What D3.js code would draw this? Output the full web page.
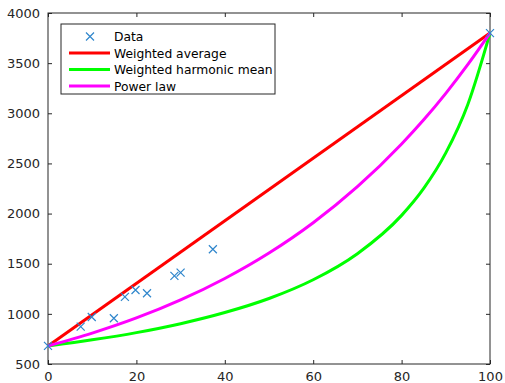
<!DOCTYPE html>
<html>
<head>
<meta charset="utf-8">
<script src="https://cdn.jsdelivr.net/npm/d3@7"></script>
<style>
  body { margin: 0; background: #fff; }
  svg text { font-family: "DejaVu Sans", sans-serif; }
</style>
</head>
<body>
<div id="chart"></div>
<script>
// data
const dataX = [0, 7.4, 9.9, 14.9, 17.4, 19.8, 22.4, 28.6, 30.0, 37.3, 100];
const dataY = [680, 872, 969, 956, 1169, 1238, 1205, 1378, 1411, 1644, 3800];

const avgX = [0, 100];
const avgY = [680, 3800];

const curveX = [0, 10, 20, 30, 40, 50, 60, 70, 80, 85, 90, 95, 100];
const harmonicY = [680, 741, 813, 902, 1013, 1153, 1340, 1600, 1982, 2251, 2605, 3091, 3800];
const powerY = [680, 808, 959, 1139, 1353, 1607, 1909, 2268, 2694, 2935, 3199, 3487, 3800];

const xTicks = [0, 20, 40, 60, 80, 100];
const yTicks = [500, 1000, 1500, 2000, 2500, 3000, 3500, 4000];

const legendItems = [
    { label: 'Data', type: 'marker', color: '#2f86cc' },
    { label: 'Weighted average', type: 'line', color: '#ff0000' },
    { label: 'Weighted harmonic mean', type: 'line', color: '#00ff00' },
    { label: 'Power law', type: 'line', color: '#ff00ff' }
];

const width = 505, height = 383;
const margin = { top: 13, right: 15, bottom: 19, left: 48 };
const innerW = width - margin.left - margin.right;
const innerH = height - margin.top - margin.bottom;

const svg = d3.select('#chart').append('svg')
    .attr('width', width)
    .attr('height', height);

const g = svg.append('g')
    .attr('transform', `translate(${margin.left}, ${margin.top})`);

const x = d3.scaleLinear().domain([0, 100]).range([0, innerW]);
const y = d3.scaleLinear().domain([500, 4000]).range([innerH, 0]);

const axisColor = '#262626';
const fmt = d3.format('d');

// axes with inward ticks, box on all sides
function styleAxis(sel) {
    sel.select('.domain').remove();
    sel.selectAll('line').attr('stroke', axisColor);
    sel.selectAll('text').attr('fill', axisColor).style('font-size', '13px');
}

g.append('g')
    .attr('transform', `translate(0, ${innerH})`)
    .call(d3.axisBottom(x).tickValues(xTicks).tickSize(-4).tickPadding(8).tickFormat(fmt))
    .call(styleAxis);

g.append('g')
    .call(d3.axisTop(x).tickValues(xTicks).tickSize(-4).tickFormat(''))
    .call(styleAxis);

g.append('g')
    .call(d3.axisLeft(y).tickValues(yTicks).tickSize(-4).tickPadding(8).tickFormat(fmt))
    .call(styleAxis);

g.append('g')
    .attr('transform', `translate(${innerW}, 0)`)
    .call(d3.axisRight(y).tickValues(yTicks).tickSize(-4).tickFormat(''))
    .call(styleAxis);

g.append('rect')
    .attr('width', innerW)
    .attr('height', innerH)
    .attr('fill', 'none')
    .attr('stroke', axisColor)
    .attr('stroke-width', 1);

// lines
const line = d3.line()
    .x(d => x(d[0]))
    .y(d => y(d[1]))
    .curve(d3.curveMonotoneX);

const series = [
    { xs: avgX, ys: avgY, color: legendItems[1].color },
    { xs: curveX, ys: harmonicY, color: legendItems[2].color },
    { xs: curveX, ys: powerY, color: legendItems[3].color }
];

g.selectAll('.series')
    .data(series)
    .enter()
    .append('path')
    .attr('class', 'series')
    .attr('d', d => line(d.xs.map((v, i) => [v, d.ys[i]])))
    .attr('fill', 'none')
    .attr('stroke', d => d.color)
    .attr('stroke-width', 3);

// data markers
const mk = 4;
g.selectAll('.marker')
    .data(dataX.map((v, i) => [v, dataY[i]]))
    .enter()
    .append('path')
    .attr('class', 'marker')
    .attr('d', d => {
        const cx = x(d[0]), cy = y(d[1]);
        return `M${cx - mk},${cy - mk}L${cx + mk},${cy + mk}M${cx - mk},${cy + mk}L${cx + mk},${cy - mk}`;
    })
    .attr('stroke', legendItems[0].color)
    .attr('stroke-width', 1.2)
    .attr('fill', 'none');

// legend
const legend = svg.append('g')
    .attr('transform', 'translate(61, 24)');

legend.append('rect')
    .attr('width', 214)
    .attr('height', 70)
    .attr('fill', '#fff')
    .attr('stroke', axisColor)
    .attr('stroke-width', 1);

legend.selectAll('.legend-item')
    .data(legendItems)
    .enter()
    .append('g')
    .attr('class', 'legend-item')
    .attr('transform', (d, i) => `translate(0, ${12.5 + i * 16.5})`)
    .each(function(d) {
        const item = d3.select(this);
        if (d.type === 'line') {
            item.append('line')
                .attr('x1', 8).attr('x2', 49)
                .attr('y1', 0).attr('y2', 0)
                .attr('stroke', d.color)
                .attr('stroke-width', 3);
        } else {
            item.append('path')
                .attr('d', `M${29 - mk},${-mk}L${29 + mk},${mk}M${29 - mk},${mk}L${29 + mk},${-mk}`)
                .attr('stroke', d.color)
                .attr('stroke-width', 1.2);
        }
        item.append('text')
            .attr('x', 53)
            .attr('y', 4.5)
            .attr('fill', '#000')
            .style('font-size', '12.3px')
            .text(d.label);
    });
</script>
</body>
</html>
